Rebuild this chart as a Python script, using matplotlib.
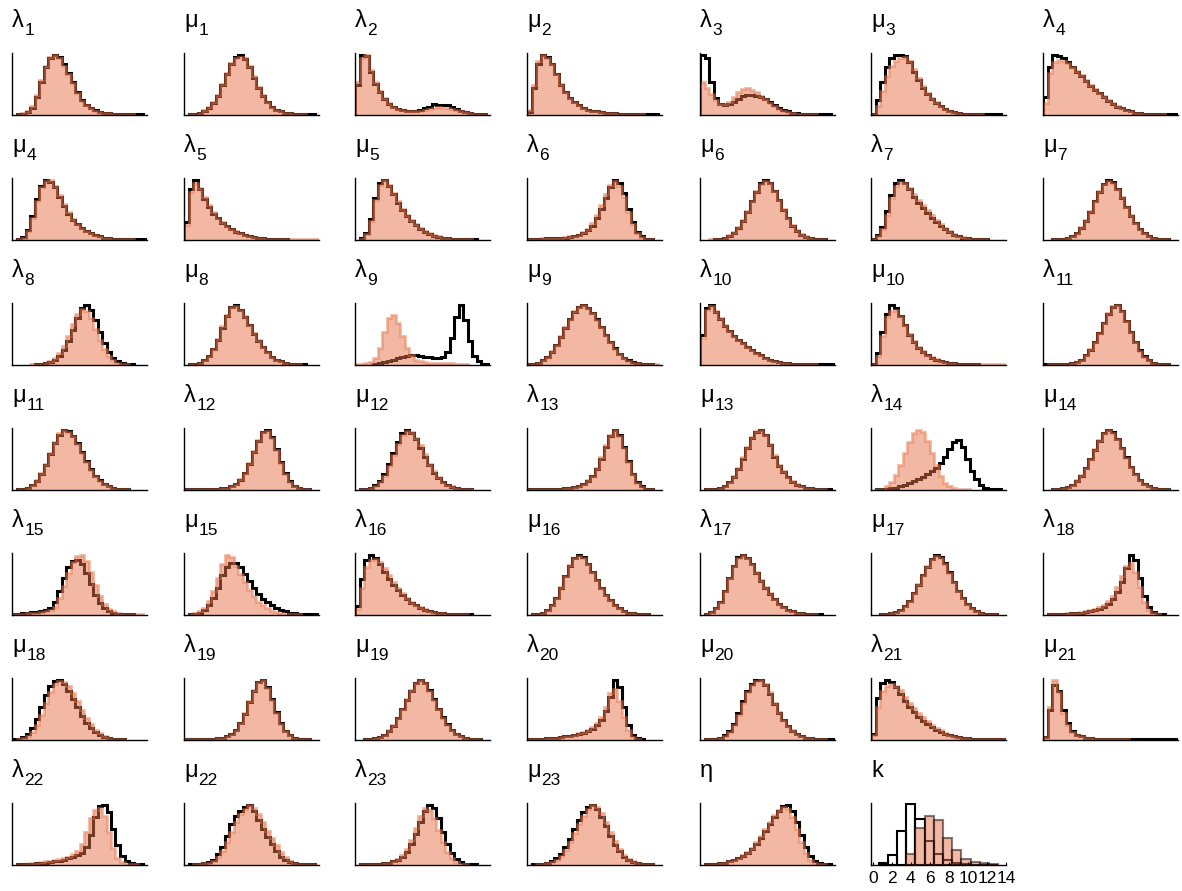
import numpy as np
import matplotlib
matplotlib.use('Agg')
import matplotlib.pyplot as plt

plt.rcParams['font.family'] = ['Liberation Sans', 'DejaVu Sans']

# binned densities on [0,1], 30 bins each
# *_a : outline histogram, *_b : filled histogram
lam1_a = [0,1,2,5,12,30,55,80,95,100,97,85,70,55,38,25,16,11,8,5,4,3,2,2,1,1,1,1,1,0]
lam1_b = [0,1,3,7,15,33,58,82,97,101,95,83,68,53,37,24,16,11,7,5,4,3,2,2,1,1,1,0,0,0]
mu1_a = [0,1,2,4,7,12,20,32,50,68,85,96,100,93,80,62,45,32,22,14,9,6,4,3,2,1,1,1,1,0]
mu1_b = [0,1,2,4,8,13,21,34,52,70,86,95,97,94,82,64,47,33,22,14,9,6,4,3,2,1,1,0,0,0]
lam2_a = [50,100,98,72,52,38,27,19,13,10,8,7,7,7,9,11,14,18,17,16,17,13,10,7,5,3,2,1,1,0]
lam2_b = [55,95,100,75,55,40,28,20,14,10,8,7,6,6,7,8,10,12,13,12,12,10,8,6,5,3,2,1,1,0]
mu2_a = [5,45,85,100,97,85,68,50,38,28,21,16,12,9,7,6,5,4,3,3,2,2,1,1,1,1,1,1,1,0]
mu2_b = [8,50,90,100,95,84,68,52,39,29,22,16,12,9,7,6,5,4,3,3,2,2,1,1,1,1,0,0,0,0]
lam3_a = [100,95,55,28,18,17,18,22,27,31,33,33,32,30,26,22,17,12,8,6,4,3,2,2,1,1,1,1,1,0]
lam3_b = [55,45,35,25,18,18,22,30,38,43,45,42,38,32,26,20,15,10,7,5,3,2,2,1,1,1,0,0,0,0]
mu3_a = [2,25,55,80,94,100,100,98,88,72,58,45,35,27,20,15,10,7,5,3,2,2,1,1,1,1,1,1,1,0]
mu3_b = [1,15,40,65,82,90,94,96,90,77,62,48,37,28,21,15,10,7,5,3,2,2,1,1,1,0,0,0,0,0]
lam4_a = [30,80,100,98,95,88,80,72,64,56,49,42,36,30,24,19,14,11,8,6,4,3,2,2,1,1,1,1,1,1]
lam4_b = [20,70,88,92,90,86,80,73,66,58,50,43,37,31,25,20,15,11,8,6,4,3,2,1,1,1,1,0,0,0]
mu4_a = [0,1,5,17,40,68,90,100,97,88,72,57,44,34,26,20,15,11,8,6,4,3,2,2,1,1,1,1,1,1]
mu4_b = [0,1,4,15,37,65,88,98,99,90,75,59,46,35,27,20,15,11,8,6,4,3,2,2,1,1,1,0,0,0]
lam5_a = [30,85,100,85,68,55,44,36,29,23,18,14,11,8,6,5,4,3,2,2,1,1,1,0,0,0,0,0,0,0]
lam5_b = [25,80,95,87,72,58,46,37,30,24,19,15,11,9,7,5,4,3,2,2,2,1,1,1,1,1,1,1,1,1]
mu5_a = [0,3,12,35,70,95,100,90,76,62,50,40,32,25,19,14,10,7,5,4,3,2,2,1,1,1,1,0,0,0]
mu5_b = [0,2,10,32,66,92,99,92,78,64,52,41,33,26,20,15,11,8,6,4,3,2,2,1,1,1,0,0,0,0]
lam6_a = [1,2,2,2,3,3,3,4,4,5,6,8,11,16,24,36,52,70,88,100,95,78,52,30,14,6,2,1,0,0]
lam6_b = [1,2,2,3,3,3,4,4,5,6,7,9,13,19,28,41,58,76,92,98,90,72,47,26,12,5,2,1,0,0]
mu6_a = [0,0,0,1,2,4,7,12,20,32,47,64,80,94,100,95,82,66,50,36,24,15,9,5,3,2,1,1,0,0]
mu6_b = [0,0,1,1,2,4,8,13,21,33,48,65,81,93,98,94,82,67,51,37,25,16,10,6,3,2,1,1,0,0]
lam7_a = [2,8,22,48,75,95,100,94,84,72,62,53,45,37,30,24,18,13,9,6,4,3,2,1,1,1,0,0,0,0]
lam7_b = [1,6,18,42,70,90,97,95,87,76,66,58,50,42,34,27,20,15,10,7,5,3,2,1,1,1,0,0,0,0]
mu7_a = [0,0,1,1,2,4,7,12,20,32,47,64,80,93,100,96,85,70,54,40,28,18,11,7,4,2,1,1,0,0]
mu7_b = [0,0,1,1,2,4,7,12,21,33,48,65,81,93,98,95,85,71,55,41,29,19,12,7,4,2,1,1,0,0]
lam8_a = [0,0,0,0,0,1,2,3,5,9,15,25,40,58,78,94,100,92,75,55,37,22,12,6,3,1,1,0,0,0]
lam8_b = [0,0,0,0,1,1,2,4,7,12,20,32,48,68,85,93,90,78,60,42,27,15,8,4,2,1,0,0,0,0]
mu8_a = [0,1,2,4,8,15,26,42,62,82,97,100,92,80,66,52,40,30,21,14,9,6,4,2,1,1,1,0,0,0]
mu8_b = [0,1,2,4,8,15,27,44,64,83,96,98,92,81,67,53,41,30,21,14,9,6,4,2,1,1,0,0,0,0]
lam9_a = [0,0,0,0,1,3,5,7,9,11,13,15,17,16,15,14,13,12,11,13,22,45,80,100,75,40,15,6,2,1]
lam9_b = [1,2,3,5,12,28,55,78,83,70,48,28,16,9,6,5,4,4,3,3,4,3,2,2,1,0,0,0,0,0]
mu9_a = [1,2,4,8,14,22,33,47,62,77,89,97,100,96,88,77,64,51,39,28,19,12,8,5,3,2,1,1,0,0]
mu9_b = [1,2,4,8,14,23,34,48,63,78,90,98,101,96,87,76,63,50,38,27,18,12,7,4,3,2,1,1,1,0]
lam10_a = [50,95,100,88,76,65,56,48,42,36,30,25,20,16,12,9,7,5,4,3,2,2,1,1,1,1,1,1,1,1]
lam10_b = [45,92,98,90,78,67,57,49,42,36,30,25,20,16,12,9,7,5,4,3,2,2,1,1,1,1,0,0,0,0]
mu10_a = [2,20,55,85,100,95,82,66,50,38,29,22,16,12,9,7,5,4,3,2,2,1,1,1,0,0,0,0,0,0]
mu10_b = [1,15,48,80,90,92,82,67,52,40,30,23,17,13,10,7,5,4,3,2,2,1,1,1,1,1,1,1,1,1]
lam11_a = [1,1,1,1,1,2,3,5,9,16,26,38,53,70,86,98,100,90,74,56,39,25,15,8,4,2,1,1,0,0]
lam11_b = [0,1,1,1,1,2,3,5,9,16,27,39,54,71,87,99,101,91,74,55,38,24,14,8,4,2,1,1,0,0]
mu11_a = [0,1,2,4,8,15,27,42,60,78,92,100,98,90,78,63,48,35,24,16,10,6,4,2,1,1,0,0,0,0]
mu11_b = [0,1,2,4,8,16,28,44,62,80,94,100,97,89,77,62,47,34,23,15,10,6,4,2,1,1,0,0,0,0]
lam12_a = [1,1,1,1,1,1,2,2,3,4,6,10,17,28,44,63,82,97,100,88,68,46,28,15,7,3,1,1,0,0]
lam12_b = [1,1,1,1,1,1,2,2,3,4,6,10,18,29,45,64,83,96,98,87,67,45,27,14,7,3,1,1,0,0]
mu12_a = [0,1,2,4,8,15,27,43,62,80,95,100,95,84,70,55,41,29,20,13,8,5,3,2,1,1,0,0,0,0]
mu12_b = [0,1,2,4,7,13,24,40,58,77,92,98,96,87,74,59,44,32,22,14,9,6,3,2,1,1,0,0,0,0]
lam13_a = [1,1,1,1,1,1,2,2,3,4,5,7,10,15,23,35,52,72,90,100,92,72,48,27,13,6,2,1,0,0]
lam13_b = [1,1,1,1,1,1,2,2,3,4,5,7,10,16,24,37,54,74,91,99,90,70,46,26,12,5,2,1,0,0]
mu13_a = [0,1,1,2,4,7,13,22,35,52,70,86,97,100,92,75,55,40,30,21,14,9,6,4,3,2,1,1,1,0]
mu13_b = [0,1,1,2,4,7,13,23,36,54,72,88,98,99,92,77,58,42,31,22,15,10,6,4,3,2,1,1,0,0]
lam14_a = [0,1,1,2,3,4,6,9,12,15,18,22,26,31,37,45,55,68,80,83,72,52,32,18,9,4,2,1,1,0]
lam14_b = [0,1,2,6,13,25,42,62,80,94,100,96,82,62,42,24,12,6,3,2,1,1,0,0,0,0,0,0,0,0]
mu14_a = [0,0,1,2,3,5,9,15,24,36,51,67,82,94,100,96,85,70,54,39,27,17,10,6,3,2,1,1,0,0]
mu14_b = [0,0,1,2,3,5,9,16,25,37,52,68,83,94,99,95,84,69,53,38,26,16,10,6,3,2,1,1,0,0]
lam15_a = [1,2,3,4,5,5,6,8,12,22,40,62,80,90,92,85,70,52,34,20,11,6,4,2,1,1,1,0,0,0]
lam15_b = [1,1,2,3,4,4,5,6,8,14,28,48,70,88,98,100,90,72,50,32,18,10,6,4,2,1,1,1,1,0]
mu15_a = [0,1,2,4,8,16,28,45,66,80,87,86,80,68,56,45,35,27,21,16,12,9,6,4,3,2,2,1,1,1]
mu15_b = [0,1,3,6,12,24,40,62,85,100,96,82,68,55,42,31,22,16,11,7,5,3,2,1,1,1,0,0,0,0]
lam16_a = [15,60,92,100,95,85,72,60,50,41,33,26,20,16,12,9,7,5,4,3,2,2,1,1,1,1,0,0,0,0]
lam16_b = [10,45,80,92,93,88,78,66,55,45,36,29,22,17,13,10,7,5,4,3,2,2,1,1,1,0,0,0,0,0]
mu16_a = [0,1,2,4,8,16,28,45,64,82,95,100,96,85,72,58,45,34,25,17,11,7,4,3,2,1,1,0,0,0]
mu16_b = [0,1,2,4,8,16,29,46,65,83,95,98,95,85,72,58,45,34,25,17,11,7,4,3,2,1,1,0,0,0]
lam17_a = [0,2,5,11,22,40,62,82,96,100,95,84,70,57,45,35,26,19,13,9,6,4,3,2,1,1,1,0,0,0]
lam17_b = [0,2,5,11,22,40,62,82,95,99,95,85,72,58,46,36,27,19,13,9,6,4,3,2,1,1,0,0,0,0]
mu17_a = [0,0,1,2,3,5,9,15,24,36,50,66,80,93,100,97,86,71,55,40,28,18,11,6,3,2,1,1,0,0]
mu17_b = [0,0,1,2,3,5,9,15,24,37,51,67,81,93,98,95,85,70,54,40,28,18,11,6,3,2,1,1,0,0]
lam18_a = [0,1,1,1,2,2,3,3,4,5,6,8,10,13,18,26,38,55,78,100,92,62,32,14,5,2,1,0,0,0]
lam18_b = [0,1,1,2,2,3,3,4,5,6,8,10,13,17,23,32,46,64,82,86,72,46,22,9,3,1,0,0,0,0]
mu18_a = [1,2,5,10,20,35,55,75,90,98,100,93,82,68,54,40,29,20,13,8,5,3,2,1,1,0,0,0,0,0]
mu18_b = [0,1,3,6,13,25,42,62,80,93,98,97,90,78,64,50,37,26,17,11,7,4,2,1,1,0,0,0,0,0]
lam19_a = [1,1,1,1,1,2,2,3,4,6,10,17,28,44,63,82,97,100,88,68,46,28,15,8,4,2,1,1,0,0]
lam19_b = [1,1,1,1,1,2,2,3,4,6,10,17,29,45,64,83,97,99,87,67,45,27,15,8,4,2,1,1,0,0]
mu19_a = [0,0,1,2,3,5,9,15,24,36,51,67,82,94,100,95,83,68,52,38,26,16,10,6,3,2,1,1,0,0]
mu19_b = [0,0,1,2,3,5,9,16,25,37,52,68,83,94,99,94,82,67,51,37,25,16,10,6,3,2,1,1,0,0]
lam20_a = [1,1,2,2,3,3,4,5,6,7,8,10,12,15,19,25,33,48,72,100,88,55,25,9,3,1,0,0,0,0]
lam20_b = [1,1,2,2,3,3,4,5,6,7,9,11,14,17,21,28,38,55,78,84,65,38,16,5,1,0,0,0,0,0]
mu20_a = [0,1,1,2,4,8,15,27,45,65,82,93,99,100,92,77,60,45,33,23,15,10,6,4,3,2,1,1,1,1]
mu20_b = [0,1,1,2,4,7,14,25,42,62,80,92,98,99,93,79,62,47,34,24,16,10,6,4,3,2,1,1,0,0]
lam21_a = [10,70,95,100,96,88,76,64,54,46,39,32,26,21,17,13,10,8,6,5,4,3,2,2,1,1,1,1,1,1]
lam21_b = [8,55,82,90,93,90,83,72,62,53,45,38,31,25,20,16,12,9,7,5,4,3,2,2,1,1,1,1,1,1]
mu21_a = [5,50,92,82,50,28,15,9,6,4,3,2,2,2,1,1,1,1,1,1,1,1,1,1,1,1,1,1,1,1]
mu21_b = [5,55,100,80,45,25,14,9,6,4,3,2,2,1,1,1,1,1,1,0,0,0,0,0,0,0,0,0,0,0]
lam22_a = [0,1,1,2,2,3,4,4,5,6,7,9,11,13,16,20,30,50,80,98,100,88,60,33,15,6,3,1,1,0]
lam22_b = [0,1,1,2,3,4,5,6,7,8,10,12,14,18,24,35,55,78,92,95,82,55,28,12,5,2,1,1,0,0]
mu22_a = [0,1,1,2,3,5,9,18,30,48,68,82,90,97,100,90,75,60,46,35,24,14,9,5,3,2,1,1,1,0]
mu22_b = [0,0,1,2,3,4,7,13,23,38,55,72,85,93,100,95,85,72,57,45,33,22,13,7,4,2,1,1,1,0]
lam23_a = [0,1,1,1,2,2,3,4,6,9,14,22,35,52,72,90,100,95,78,55,35,20,10,5,2,1,1,0,0,0]
lam23_b = [0,1,1,1,2,2,3,4,6,10,17,27,42,62,82,95,92,78,58,38,22,11,5,2,1,0,0,0,0,0]
mu23_a = [0,1,1,2,3,6,11,19,30,44,60,75,88,97,100,93,80,64,48,34,23,14,8,5,3,2,1,1,0,0]
mu23_b = [0,0,1,2,3,5,9,15,25,38,53,68,82,93,99,96,86,71,55,40,27,17,10,6,3,2,1,1,0,0]
eta_a = [0,1,1,2,3,4,6,8,11,15,20,27,35,45,56,68,80,90,98,100,90,72,50,30,15,7,3,1,1,0]
eta_b = [0,1,1,2,3,4,6,8,12,16,22,29,38,48,60,72,83,92,96,93,80,60,38,20,9,4,1,1,0,0]

# number of components k: counts per bin
k_left = [0.6, 1.57, 2.53, 3.5, 4.47, 5.43, 6.4, 7.37, 8.33, 9.3, 10.27, 11.23, 12.2]
k_a = [17, 107, 350, 630, 480, 250, 117, 47, 23, 10, 5, 3, 2]
k_b = [0, 0, 0, 117, 380, 510, 470, 280, 160, 67, 27, 17, 7]
k_ticks = [0, 2, 4, 6, 8, 10, 12, 14]

panels = [
    ('λ', '1', lam1_a, lam1_b), ('μ', '1', mu1_a, mu1_b),
    ('λ', '2', lam2_a, lam2_b), ('μ', '2', mu2_a, mu2_b),
    ('λ', '3', lam3_a, lam3_b), ('μ', '3', mu3_a, mu3_b),
    ('λ', '4', lam4_a, lam4_b), ('μ', '4', mu4_a, mu4_b),
    ('λ', '5', lam5_a, lam5_b), ('μ', '5', mu5_a, mu5_b),
    ('λ', '6', lam6_a, lam6_b), ('μ', '6', mu6_a, mu6_b),
    ('λ', '7', lam7_a, lam7_b), ('μ', '7', mu7_a, mu7_b),
    ('λ', '8', lam8_a, lam8_b), ('μ', '8', mu8_a, mu8_b),
    ('λ', '9', lam9_a, lam9_b), ('μ', '9', mu9_a, mu9_b),
    ('λ', '10', lam10_a, lam10_b), ('μ', '10', mu10_a, mu10_b),
    ('λ', '11', lam11_a, lam11_b), ('μ', '11', mu11_a, mu11_b),
    ('λ', '12', lam12_a, lam12_b), ('μ', '12', mu12_a, mu12_b),
    ('λ', '13', lam13_a, lam13_b), ('μ', '13', mu13_a, mu13_b),
    ('λ', '14', lam14_a, lam14_b), ('μ', '14', mu14_a, mu14_b),
    ('λ', '15', lam15_a, lam15_b), ('μ', '15', mu15_a, mu15_b),
    ('λ', '16', lam16_a, lam16_b), ('μ', '16', mu16_a, mu16_b),
    ('λ', '17', lam17_a, lam17_b), ('μ', '17', mu17_a, mu17_b),
    ('λ', '18', lam18_a, lam18_b), ('μ', '18', mu18_a, mu18_b),
    ('λ', '19', lam19_a, lam19_b), ('μ', '19', mu19_a, mu19_b),
    ('λ', '20', lam20_a, lam20_b), ('μ', '20', mu20_a, mu20_b),
    ('λ', '21', lam21_a, lam21_b), ('μ', '21', mu21_a, mu21_b),
    ('λ', '22', lam22_a, lam22_b), ('μ', '22', mu22_a, mu22_b),
    ('λ', '23', lam23_a, lam23_b), ('μ', '23', mu23_a, mu23_b),
    ('η', '', eta_a, eta_b),
]

SALMON = '#e8734a'
W, H = 1182, 891
col_x = [12, 184, 355, 527, 700, 871, 1043]
row_y = [53, 178, 303, 428, 553, 678, 803]
ax_w, ax_h = 135, 62

fig = plt.figure(figsize=(W / 100, H / 100), dpi=100)
renderer = fig.canvas.get_renderer()


def make_ax(i):
    r, c = divmod(i, 7)
    ax = fig.add_axes([col_x[c] / W, 1 - (row_y[r] + ax_h) / H, ax_w / W, ax_h / H])
    for s in ['top', 'right']:
        ax.spines[s].set_visible(False)
    for s in ['left', 'bottom']:
        ax.spines[s].set_linewidth(1.0)
    ax.set_xticks([])
    ax.set_yticks([])
    return ax


def title(ax, sym, sub):
    # symbol plus a lowered index, laid out by hand
    t = ax.annotate(sym, xy=(0, 1), xycoords='axes fraction', xytext=(0, 19),
                    textcoords='offset points', ha='left', va='baseline', fontsize=17)
    if sub:
        w = t.get_window_extent(renderer).width * 72 / fig.dpi
        ax.annotate(sub, xy=(0, 1), xycoords='axes fraction', xytext=(w + 0.5, 13),
                    textcoords='offset points', ha='left', va='baseline', fontsize=12.5)


def trimmed(h):
    h = np.asarray(h, dtype=float)
    edges = np.linspace(0, 1, len(h) + 1)
    nz = np.nonzero(h)[0]
    i0, i1 = nz[0], nz[-1]
    return h[i0:i1 + 1], edges[i0:i1 + 2]


for i, (sym, sub, ha, hb) in enumerate(panels):
    ax = make_ax(i)
    va, ea = trimmed(ha)
    vb, eb = trimmed(hb)
    ax.stairs(va, ea, color='black', lw=2.2)
    ax.stairs(vb, eb, fill=True, facecolor=SALMON, edgecolor=SALMON, lw=2, alpha=0.5)
    ax.set_xlim(0, 1)
    ax.set_ylim(0, max(max(ha), max(hb)) * 1.03)
    title(ax, sym, sub)

# k panel
ax = make_ax(len(panels))
bw = k_left[1] - k_left[0]
ax.bar(k_left, k_a, width=bw, align='edge', fill=False, edgecolor='black', lw=1.5)
ax.bar(k_left, k_b, width=bw, align='edge', color=SALMON, edgecolor='black', lw=1.5, alpha=0.5)
ax.set_xlim(-0.2, 14)
ax.set_ylim(0, max(k_a) * 1.02)
ax.set_xticks(k_ticks)
ax.tick_params(axis='x', length=2, direction='in', pad=4, labelsize=12.5)
title(ax, 'k', '')

fig.savefig('out.png', dpi=100)
